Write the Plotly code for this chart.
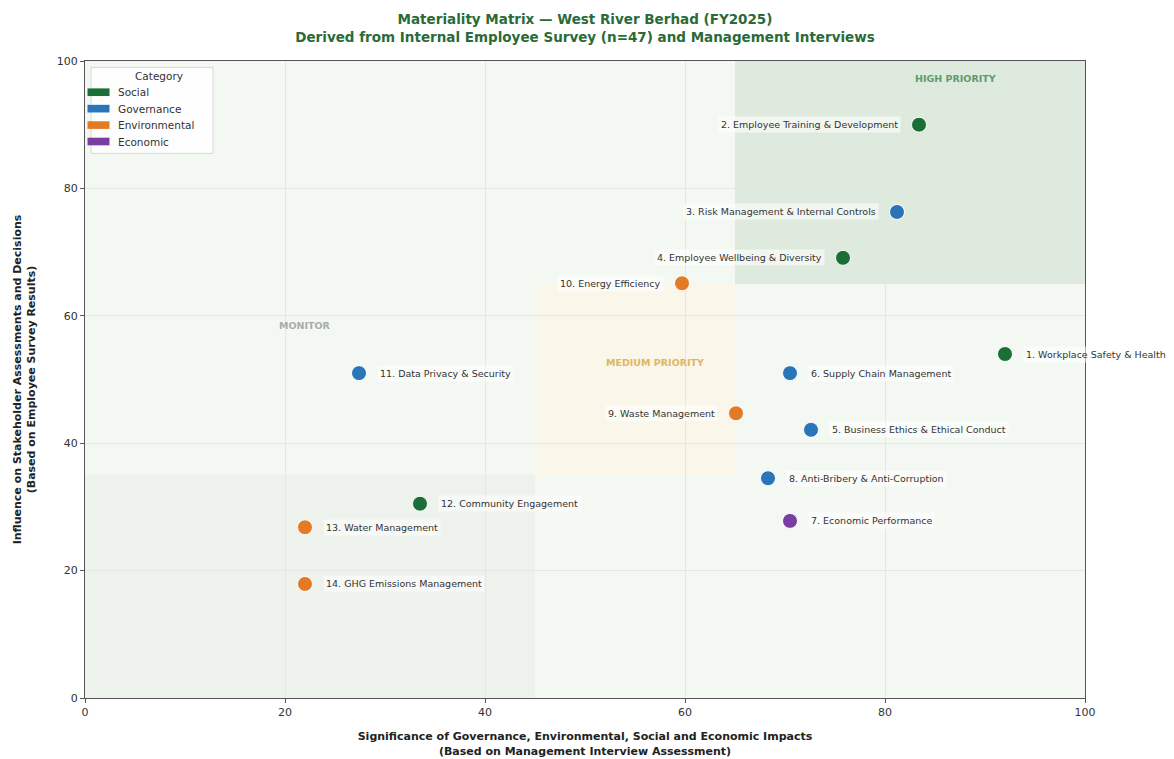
import plotly.graph_objects as go

# Material topics: significance (x), influence (y), category, label side
topics = [
    "1. Workplace Safety & Health",
    "2. Employee Training & Development",
    "3. Risk Management & Internal Controls",
    "4. Employee Wellbeing & Diversity",
    "5. Business Ethics & Ethical Conduct",
    "6. Supply Chain Management",
    "7. Economic Performance",
    "8. Anti-Bribery & Anti-Corruption",
    "9. Waste Management",
    "10. Energy Efficiency",
    "11. Data Privacy & Security",
    "12. Community Engagement",
    "13. Water Management",
    "14. GHG Emissions Management",
]
significance = [92.0, 83.4, 81.2, 75.8, 72.6, 70.5, 70.5, 68.3, 65.1, 59.7, 27.4, 33.5, 22.0, 22.0]
influence = [54.0, 90.0, 76.3, 69.1, 42.1, 51.0, 27.8, 34.5, 44.7, 65.1, 51.0, 30.5, 26.8, 17.9]
category = ["Social", "Social", "Governance", "Social", "Governance", "Governance", "Economic",
            "Governance", "Environmental", "Environmental", "Governance", "Social",
            "Environmental", "Environmental"]
label_side = ["right", "left", "left", "left", "right", "right", "right", "right",
              "left", "left", "right", "right", "right", "right"]

categories = ["Social", "Governance", "Environmental", "Economic"]
colors = {"Social": "#1b6e35", "Governance": "#2a74b8", "Environmental": "#e27a26", "Economic": "#7a3ea3"}

FONT = "DejaVu Sans"

fig = go.Figure()

# Priority zones
fig.add_shape(type="rect", x0=0, x1=45, y0=0, y1=35, fillcolor="#eef2ec", line_width=0, layer="below")
fig.add_shape(type="rect", x0=45, x1=65, y0=35, y1=65, fillcolor="#fbf6ea", line_width=0, layer="below")
fig.add_shape(type="rect", x0=65, x1=100, y0=65, y1=100, fillcolor="#dfeadf", line_width=0, layer="below")

for cat in categories:
    xs = [x for x, c in zip(significance, category) if c == cat]
    ys = [y for y, c in zip(influence, category) if c == cat]
    fig.add_trace(go.Scatter(
        x=xs, y=ys, mode="markers", name=cat, showlegend=False,
        marker=dict(size=15, color=colors[cat], line=dict(color="white", width=1)),
        hovertext=[t for t, c in zip(topics, category) if c == cat],
    ))

# Topic labels beside each point
for t, x, y, side in zip(topics, significance, influence, label_side):
    fig.add_annotation(
        x=x, y=y, text=t, showarrow=False,
        xanchor="left" if side == "right" else "right",
        xshift=18 if side == "right" else -18,
        font=dict(family=FONT, size=9.5, color="#333333"),
        bgcolor="rgba(255,255,255,0.55)", borderpad=2,
    )

# Zone captions
fig.add_annotation(x=87, y=97.2, text="<b>HIGH PRIORITY</b>", showarrow=False,
                   font=dict(family=FONT, size=9.5, color="#5c9c6b"))
fig.add_annotation(x=57, y=52.6, text="<b>MEDIUM PRIORITY</b>", showarrow=False,
                   font=dict(family=FONT, size=9.5, color="#dfb65e"))
fig.add_annotation(x=22, y=58.4, text="<b>MONITOR</b>", showarrow=False,
                   font=dict(family=FONT, size=9.5, color="#a9aca9"))

# Category legend box
fig.add_shape(type="rect", xref="paper", yref="paper", x0=0.006, x1=0.128, y0=0.855, y1=0.99,
              fillcolor="rgba(255,255,255,0.8)", line=dict(color="#d6d6d6", width=1))
fig.add_annotation(xref="paper", yref="paper", x=0.074, y=0.977, text="Category", showarrow=False,
                   xanchor="center", yanchor="middle", font=dict(family=FONT, size=10.5, color="#333333"))
for i, cat in enumerate(categories):
    yc = 0.951 - i * 0.0258
    fig.add_shape(type="rect", xref="paper", yref="paper", x0=0.0025, x1=0.0245,
                  y0=yc - 0.006, y1=yc + 0.006, fillcolor=colors[cat], line_width=0)
for i, cat in enumerate(categories):
    yc = 0.951 - i * 0.0258
    fig.add_annotation(xref="paper", yref="paper", x=0.031, y=yc, text=cat, showarrow=False,
                       xanchor="left", yanchor="middle", font=dict(family=FONT, size=10.5, color="#333333"))

fig.update_layout(
    width=1174, height=759,
    margin=dict(l=85, r=89, t=61, b=61, autoexpand=False),
    paper_bgcolor="white",
    plot_bgcolor="#f4f8f3",
    font=dict(family=FONT, color="#333333"),
    title=dict(
        text="<b>Materiality Matrix — West River Berhad (FY2025)<br>Derived from Internal Employee Survey (n=47) and Management Interviews</b>",
        x=0.5, xref="paper", xanchor="center", y=0.968, yanchor="top",
        font=dict(family=FONT, size=13.5, color="#2a6b38"),
    ),
    showlegend=False,
)
fig.update_xaxes(
    range=[0, 100], tickvals=[0, 20, 40, 60, 80, 100], showgrid=True, gridcolor="#e3e9e2",
    zeroline=False, showline=True, linecolor="#555555", linewidth=1.2, mirror=True,
    ticks="outside", ticklen=4, tickcolor="#555555", tickfont=dict(size=11, color="#333333"),
    automargin=False,
    title=dict(text="<b>Significance of Governance, Environmental, Social and Economic Impacts<br>(Based on Management Interview Assessment)</b>",
               font=dict(size=11, color="#222222"), standoff=14),
)
fig.update_yaxes(
    range=[0, 100], tickvals=[0, 20, 40, 60, 80, 100], showgrid=True, gridcolor="#e3e9e2",
    zeroline=False, showline=True, linecolor="#555555", linewidth=1.2, mirror=True,
    ticks="outside", ticklen=4, tickcolor="#555555", tickfont=dict(size=11, color="#333333"),
    automargin=False,
    title=dict(text="<b>Influence on Stakeholder Assessments and Decisions<br>(Based on Employee Survey Results)</b>",
               font=dict(size=11, color="#222222"), standoff=18),
)

fig.write_html("out.html")
